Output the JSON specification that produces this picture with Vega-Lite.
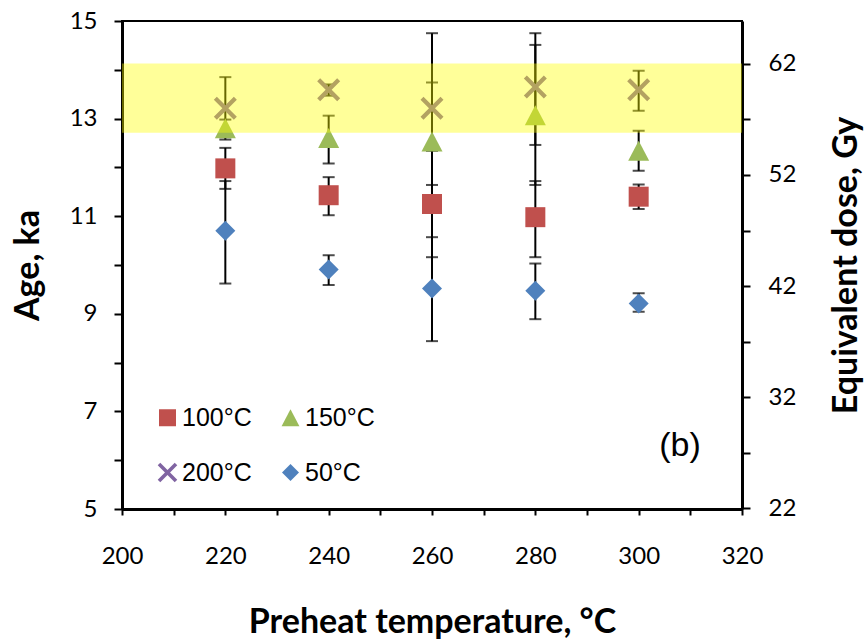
{
  "$schema": "https://vega.github.io/schema/vega-lite/v6.json",
  "width": 620,
  "height": 488,
  "autosize": "none",
  "padding": {"left": 122, "top": 21, "right": 125, "bottom": 130},
  "background": "white",
  "config": {
    "view": {"stroke": "black", "strokeWidth": 2},
    "axis": {
      "grid": false,
      "domainColor": "black",
      "tickColor": "black",
      "labelColor": "black",
      "titleColor": "black",
      "labelFont": "Lato",
      "labelFontSize": 24,
      "titleFont": "Lato",
      "titleFontSize": 34,
      "titleFontWeight": "bold",
      "domainWidth": 3,
      "tickWidth": 2,
      "labelFlush": false,
      "labelOverlap": false
    },
    "axisX": {"tickSize": 6, "labelPadding": 29, "titlePadding": 37},
    "axisLeft": {"tickSize": 8, "labelPadding": 17, "titlePadding": 24},
    "axisRight": {"tickSize": 8, "labelPadding": 18, "titlePadding": 34}
  },
  "datasets": {
    "pts": [
      {"temp": 220, "series": "50°C", "age": 10.70, "lo": 9.62, "hi": 11.72},
      {"temp": 220, "series": "100°C", "age": 11.98, "lo": 11.56, "hi": 12.40},
      {"temp": 220, "series": "150°C", "age": 12.80, "lo": 12.62, "hi": 12.98},
      {"temp": 220, "series": "200°C", "age": 13.21, "lo": 12.57, "hi": 13.85},
      {"temp": 240, "series": "50°C", "age": 9.91, "lo": 9.59, "hi": 10.20},
      {"temp": 240, "series": "100°C", "age": 11.43, "lo": 11.02, "hi": 11.80},
      {"temp": 240, "series": "150°C", "age": 12.60, "lo": 12.08, "hi": 13.06},
      {"temp": 240, "series": "200°C", "age": 13.59, "lo": 13.47, "hi": 13.70},
      {"temp": 260, "series": "50°C", "age": 9.52, "lo": 8.44, "hi": 10.57},
      {"temp": 260, "series": "100°C", "age": 11.25, "lo": 10.16, "hi": 12.34},
      {"temp": 260, "series": "150°C", "age": 12.53, "lo": 11.32, "hi": 13.74},
      {"temp": 260, "series": "200°C", "age": 13.21, "lo": 11.64, "hi": 14.75},
      {"temp": 280, "series": "50°C", "age": 9.47, "lo": 8.89, "hi": 10.03},
      {"temp": 280, "series": "100°C", "age": 10.98, "lo": 10.16, "hi": 11.72},
      {"temp": 280, "series": "150°C", "age": 13.07, "lo": 11.64, "hi": 14.51},
      {"temp": 280, "series": "200°C", "age": 13.65, "lo": 12.46, "hi": 14.75},
      {"temp": 300, "series": "50°C", "age": 9.21, "lo": 9.04, "hi": 9.42},
      {"temp": 300, "series": "100°C", "age": 11.40, "lo": 11.15, "hi": 11.65},
      {"temp": 300, "series": "150°C", "age": 12.34, "lo": 11.93, "hi": 12.75},
      {"temp": 300, "series": "200°C", "age": 13.59, "lo": 13.16, "hi": 13.98}
    ],
    "band": [{"temp": 200, "temp2": 320, "lo": 12.71, "hi": 14.13}],
    "note": [{"temp": 308, "age": 6.3, "label": "(b)"}],
    "dose": [{"dose": 22}, {"dose": 62}]
  },
  "layer": [
    {
      "layer": [
        {
          "data": {"name": "pts"},
          "mark": {"type": "rule", "color": "black", "strokeWidth": 2},
          "encoding": {
            "x": {"field": "temp", "type": "quantitative", "scale": {"domain": [200, 320], "nice": false, "zero": false},
              "axis": {"title": "Preheat temperature, °C", "values": [200, 210, 220, 230, 240, 250, 260, 270, 280, 290, 300, 310, 320], "labelExpr": "datum.value % 20 == 0 ? datum.label : ''"}},
            "y": {"field": "lo", "type": "quantitative", "scale": {"domain": [5, 15], "nice": false, "zero": false},
              "axis": {"title": "Age, ka", "values": [5, 6, 7, 8, 9, 10, 11, 12, 13, 14, 15], "labelExpr": "datum.value % 2 == 1 ? datum.label : ''"}},
            "y2": {"field": "hi"}
          }
        },
        {
          "data": {"name": "pts"},
          "mark": {"type": "tick", "orient": "horizontal", "color": "black", "size": 12, "thickness": 2},
          "encoding": {
            "x": {"field": "temp", "type": "quantitative", "scale": {"domain": [200, 320], "nice": false, "zero": false},
              "axis": {"title": "Preheat temperature, °C", "values": [200, 210, 220, 230, 240, 250, 260, 270, 280, 290, 300, 310, 320], "labelExpr": "datum.value % 20 == 0 ? datum.label : ''"}},
            "y": {"field": "lo", "type": "quantitative", "scale": {"domain": [5, 15], "nice": false, "zero": false},
              "axis": {"title": "Age, ka", "values": [5, 6, 7, 8, 9, 10, 11, 12, 13, 14, 15], "labelExpr": "datum.value % 2 == 1 ? datum.label : ''"}}
          }
        },
        {
          "data": {"name": "pts"},
          "mark": {"type": "tick", "orient": "horizontal", "color": "black", "size": 12, "thickness": 2},
          "encoding": {
            "x": {"field": "temp", "type": "quantitative", "scale": {"domain": [200, 320], "nice": false, "zero": false},
              "axis": {"title": "Preheat temperature, °C", "values": [200, 210, 220, 230, 240, 250, 260, 270, 280, 290, 300, 310, 320], "labelExpr": "datum.value % 20 == 0 ? datum.label : ''"}},
            "y": {"field": "hi", "type": "quantitative", "scale": {"domain": [5, 15], "nice": false, "zero": false},
              "axis": {"title": "Age, ka", "values": [5, 6, 7, 8, 9, 10, 11, 12, 13, 14, 15], "labelExpr": "datum.value % 2 == 1 ? datum.label : ''"}}
          }
        },
        {
          "data": {"name": "pts"},
          "mark": {"type": "point", "filled": true, "size": 400, "opacity": 1, "strokeWidth": 0},
          "encoding": {
            "x": {"field": "temp", "type": "quantitative", "scale": {"domain": [200, 320], "nice": false, "zero": false},
              "axis": {"title": "Preheat temperature, °C", "values": [200, 210, 220, 230, 240, 250, 260, 270, 280, 290, 300, 310, 320], "labelExpr": "datum.value % 20 == 0 ? datum.label : ''"}},
            "y": {"field": "age", "type": "quantitative", "scale": {"domain": [5, 15], "nice": false, "zero": false},
              "axis": {"title": "Age, ka", "values": [5, 6, 7, 8, 9, 10, 11, 12, 13, 14, 15], "labelExpr": "datum.value % 2 == 1 ? datum.label : ''"}},
            "color": {
              "field": "series", "type": "nominal",
              "scale": {"domain": ["100°C", "150°C", "200°C", "50°C"], "range": ["#C0504D", "#9BBB59", "#8064A2", "#4F81BD"]},
              "legend": {
                "title": null, "orient": "none", "legendX": 33, "legendY": 384, "columns": 2, "direction": "horizontal",
                "labelFont": "Liberation Sans", "labelFontSize": 25, "labelColor": "black",
                "symbolSize": 289, "symbolStrokeWidth": 0, "symbolOpacity": 1,
                "labelOffset": 2, "columnPadding": 26, "rowPadding": 29, "padding": 0
              }
            },
            "shape": {
              "field": "series", "type": "nominal",
              "scale": {"domain": ["100°C", "150°C", "200°C", "50°C"], "range": ["square", "M0,-1L1.05,1L-1.05,1Z", "M-1.15,-0.85L-0.85,-1.15L0,-0.3L0.85,-1.15L1.15,-0.85L0.3,0L1.15,0.85L0.85,1.15L0,0.3L-0.85,1.15L-1.15,0.85L-0.3,0Z", "diamond"]},
              "legend": {
                "title": null, "orient": "none", "legendX": 33, "legendY": 384, "columns": 2, "direction": "horizontal",
                "labelFont": "Liberation Sans", "labelFontSize": 25, "labelColor": "black",
                "symbolSize": 289, "symbolStrokeWidth": 0, "symbolOpacity": 1,
                "labelOffset": 2, "columnPadding": 26, "rowPadding": 29, "padding": 0
              }
            }
          }
        },
        {
          "data": {"name": "band"},
          "mark": {"type": "rect", "color": "#ffff00", "opacity": 0.4},
          "encoding": {
            "x": {"field": "temp", "type": "quantitative", "scale": {"domain": [200, 320], "nice": false, "zero": false},
              "axis": {"title": "Preheat temperature, °C", "values": [200, 210, 220, 230, 240, 250, 260, 270, 280, 290, 300, 310, 320], "labelExpr": "datum.value % 20 == 0 ? datum.label : ''"}},
            "x2": {"field": "temp2"},
            "y": {"field": "lo", "type": "quantitative", "scale": {"domain": [5, 15], "nice": false, "zero": false},
              "axis": {"title": "Age, ka", "values": [5, 6, 7, 8, 9, 10, 11, 12, 13, 14, 15], "labelExpr": "datum.value % 2 == 1 ? datum.label : ''"}},
            "y2": {"field": "hi"}
          }
        },
        {
          "data": {"name": "note"},
          "mark": {"type": "text", "font": "Liberation Sans", "fontSize": 34, "color": "black", "align": "center", "baseline": "middle"},
          "encoding": {
            "x": {"field": "temp", "type": "quantitative", "scale": {"domain": [200, 320], "nice": false, "zero": false},
              "axis": {"title": "Preheat temperature, °C", "values": [200, 210, 220, 230, 240, 250, 260, 270, 280, 290, 300, 310, 320], "labelExpr": "datum.value % 20 == 0 ? datum.label : ''"}},
            "y": {"field": "age", "type": "quantitative", "scale": {"domain": [5, 15], "nice": false, "zero": false},
              "axis": {"title": "Age, ka", "values": [5, 6, 7, 8, 9, 10, 11, 12, 13, 14, 15], "labelExpr": "datum.value % 2 == 1 ? datum.label : ''"}},
            "text": {"field": "label"}
          }
        }
      ]
    },
    {
      "data": {"name": "dose"},
      "mark": {"type": "point", "opacity": 0},
      "encoding": {
        "y": {
          "field": "dose", "type": "quantitative",
          "scale": {"domain": [21.95, 65.85], "nice": false, "zero": false},
          "axis": {
            "orient": "right",
            "title": "Equivalent dose, Gy",
            "titleAngle": 270,
            "titleBaseline": "top",
            "values": [22, 27, 32, 37, 42, 47, 52, 57, 62],
            "labelExpr": "datum.value % 10 == 2 ? datum.label : ''"
          }
        }
      }
    }
  ],
  "resolve": {"scale": {"y": "independent"}}
}
